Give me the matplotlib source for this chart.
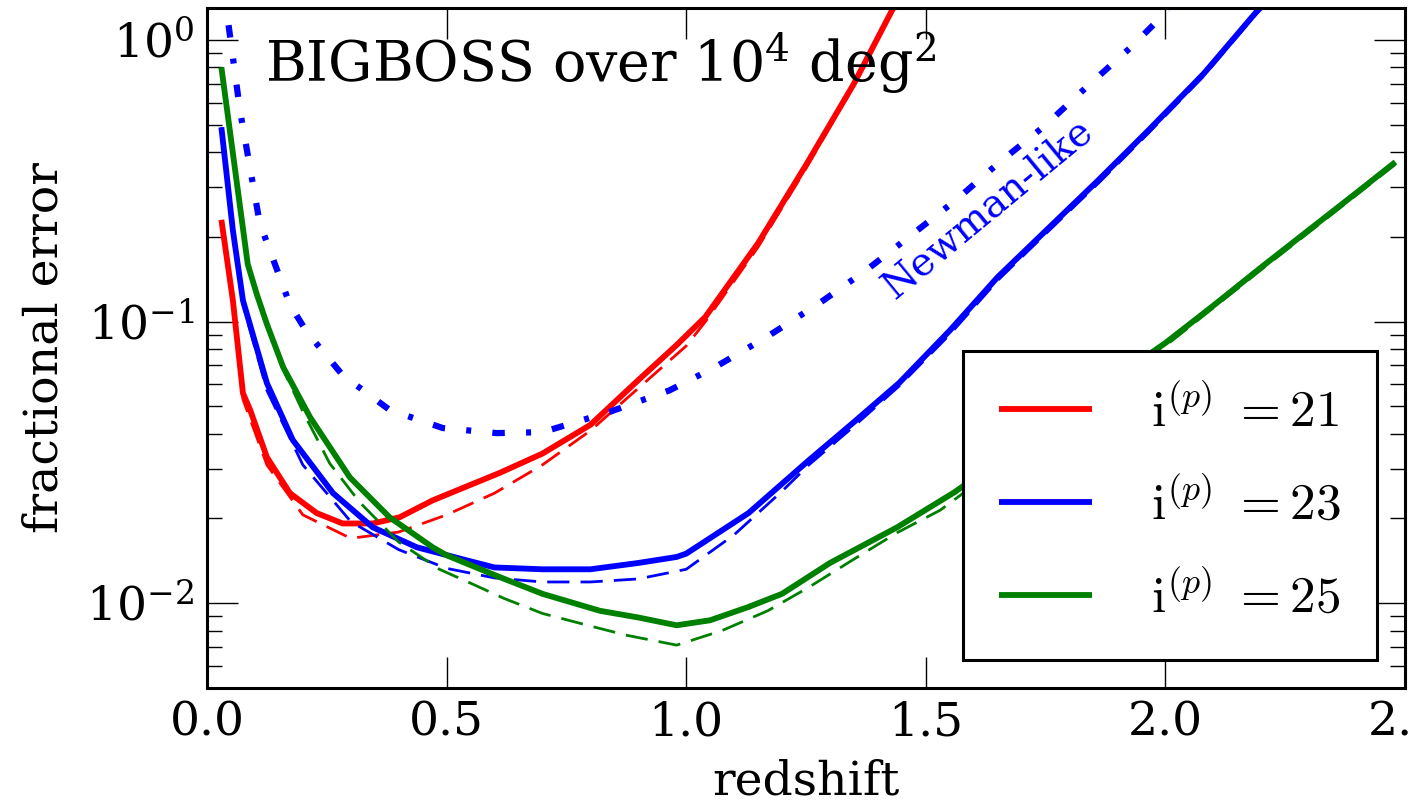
import matplotlib
matplotlib.use("Agg")
import matplotlib.pyplot as plt
from matplotlib.font_manager import FontProperties

# curvas (redshift, error fraccional)
z_r21 = [0.03, 0.054, 0.075, 0.09, 0.125, 0.173, 0.229, 0.283, 0.346, 0.402, 0.471, 0.61,
         0.7, 0.8, 0.9, 0.98, 1.04, 1.15, 1.25, 1.35, 1.43, 1.46]
e_r21 = [0.23, 0.119, 0.0557, 0.0486, 0.033, 0.0246, 0.0209, 0.0192, 0.0192, 0.0202, 0.0232, 0.029,
         0.034, 0.043, 0.062, 0.0826, 0.104, 0.19, 0.36, 0.70, 1.28, 1.5]
z_r21d = [0.03, 0.054, 0.075, 0.125, 0.2, 0.3, 0.4, 0.5, 0.6, 0.7, 0.8, 0.9, 1.0, 1.04, 1.15,
          1.25, 1.35, 1.43, 1.46]
e_r21d = [0.22, 0.115, 0.053, 0.031, 0.0206, 0.017, 0.0179, 0.0206, 0.0246, 0.031, 0.041, 0.058, 0.082,
          0.1, 0.184, 0.35, 0.69, 1.26, 1.5]

z_b23 = [0.03, 0.054, 0.075, 0.125, 0.179, 0.263, 0.346, 0.438, 0.542, 0.6, 0.7, 0.8, 0.9, 0.98,
         1.0, 1.13, 1.256, 1.35, 1.444, 1.55, 1.65, 1.75, 1.86, 1.965, 2.08, 2.19, 2.25]
e_b23 = [0.49, 0.211, 0.119, 0.0605, 0.038, 0.0246, 0.0186, 0.0158, 0.0142, 0.0134, 0.0132, 0.0132,
         0.0139, 0.0146, 0.015, 0.0209, 0.0322, 0.044, 0.0605, 0.093, 0.144, 0.21, 0.318, 0.479, 0.76,
         1.26, 1.6]
z_b23d = [0.03, 0.054, 0.075, 0.125, 0.2, 0.3, 0.4, 0.5, 0.6, 0.7, 0.8, 0.9, 1.0, 1.1, 1.2, 1.256,
          1.35, 1.444, 1.55, 1.65, 1.75, 1.86, 1.965, 2.08, 2.19, 2.25]
e_b23d = [0.49, 0.205, 0.115, 0.057, 0.031, 0.0195, 0.0155, 0.0133, 0.0123, 0.0119, 0.0119, 0.0122,
          0.0132, 0.0175, 0.025, 0.031, 0.0425, 0.059, 0.09, 0.14, 0.205, 0.31, 0.468, 0.745, 1.24, 1.6]

z_g25 = [0.03, 0.085, 0.104, 0.125, 0.159, 0.215, 0.298, 0.381, 0.471, 0.5, 0.61, 0.7, 0.82, 0.9,
         0.98, 1.05, 1.13, 1.2, 1.3, 1.44, 1.56, 1.7, 1.8, 1.9, 2.0, 2.1, 2.2, 2.3, 2.4, 2.48]
e_g25 = [0.80, 0.16, 0.125, 0.098, 0.0689, 0.0458, 0.028, 0.0202, 0.0158, 0.0148, 0.0124, 0.0108,
         0.0094, 0.0089, 0.00835, 0.0087, 0.0097, 0.0108, 0.0139, 0.0186, 0.0248, 0.0366, 0.048, 0.064,
         0.084, 0.114, 0.156, 0.212, 0.288, 0.369]
z_g25d = [0.03, 0.085, 0.104, 0.125, 0.16, 0.2, 0.256, 0.319, 0.4, 0.485, 0.554, 0.62, 0.7, 0.8, 0.875,
          0.98, 1.075, 1.17, 1.256, 1.346, 1.44, 1.53, 1.7, 1.8, 1.9, 2.0, 2.1, 2.2, 2.3, 2.4, 2.48]
e_g25d = [0.80, 0.16, 0.123, 0.096, 0.067, 0.048, 0.0314, 0.0228, 0.0165, 0.0132, 0.0117, 0.0104, 0.0092,
          0.0083, 0.0077, 0.0071, 0.008, 0.0094, 0.0114, 0.0142, 0.0178, 0.0214, 0.035, 0.046, 0.062,
          0.082, 0.112, 0.153, 0.208, 0.283, 0.362]

z_newman = [0.045, 0.069, 0.11, 0.173, 0.208, 0.283, 0.381, 0.492, 0.604, 0.7, 0.84, 0.965, 1.06,
            1.167, 1.277, 1.375, 1.465, 1.5625, 1.652, 1.75, 1.833, 1.93, 2.006]
e_newman = [1.13, 0.56, 0.224, 0.115, 0.092, 0.0646, 0.0486, 0.0419, 0.0402, 0.0405, 0.0478, 0.057,
            0.0689, 0.088, 0.116, 0.152, 0.2, 0.27, 0.366, 0.499, 0.675, 0.95, 1.28]

labels = [r"$\mathrm{i}^{(p)}\ =21$", r"$\mathrm{i}^{(p)}\ =23$", r"$\mathrm{i}^{(p)}\ =25$"]
colores = ["red", "blue", "green"]

plt.rcParams["font.family"] = ["DejaVu Serif"]
plt.rcParams["mathtext.fontset"] = "dejavuserif"
plt.rcParams["axes.unicode_minus"] = False


def main():
    fig = plt.figure(figsize=(14.14, 8.09), dpi=100)
    ax = fig.add_axes([207 / 1414, 1 - 688 / 809, (1405 - 207) / 1414, (688 - 8) / 809])

    series = [(z_r21, e_r21, z_r21d, e_r21d),
              (z_b23, e_b23, z_b23d, e_b23d),
              (z_g25, e_g25, z_g25d, e_g25d)]
    handles = []
    for (zs, es, zd, ed), c in zip(series, colores):
        h, = ax.plot(zs, es, color=c, lw=4.2, solid_capstyle="butt")
        ax.plot(zd, ed, color=c, lw=2.0, dashes=(8, 4))
        handles.append(h)

    # Newman-like: punto-raya grueso
    ax.plot(z_newman, e_newman, color="blue", lw=4.5, dashes=(2.0, 3.4, 0.8, 3.4))

    ax.set_yscale("log")
    ax.set_xlim(0, 2.5)
    ax.set_ylim(0.005, 1.3)
    ax.set_xticks([0.0, 0.5, 1.0, 1.5, 2.0, 2.5])
    ax.set_xticklabels(["0.0", "0.5", "1.0", "1.5", "2.0", "2.5"])

    ax.tick_params(which="both", direction="in", top=True, right=True, labelsize=34, pad=9)
    ax.tick_params(which="major", length=22, width=1.0)
    ax.tick_params(which="minor", length=11, width=1.0)
    for s in ax.spines.values():
        s.set_linewidth(2.2)

    ax.set_xlabel("redshift", fontsize=34, labelpad=10)
    ax.set_ylabel("fractional error", fontsize=34, labelpad=14)

    ax.text(0.048, 0.891, r"BIGBOSS over $10^4$ deg$^2$", transform=ax.transAxes,
            fontsize=40, va="baseline", ha="left")
    ax.text(1.63, 0.249, "Newman-like", color="blue", fontsize=28, rotation=39.5,
            ha="center", va="center", rotation_mode="anchor")

    leg_font = FontProperties(family="DejaVu Serif", size=37, math_fontfamily="cm")
    leg = ax.legend(handles, labels, loc="lower right", prop=leg_font, fancybox=False,
                    framealpha=1, edgecolor="black", handlelength=1.8, handletextpad=1.15,
                    borderpad=0.7, labelspacing=0.8, borderaxespad=0.55)
    leg.get_frame().set_linewidth(2.2)

    fig.savefig("out.png", dpi=100)


if __name__ == "__main__":
    main()
